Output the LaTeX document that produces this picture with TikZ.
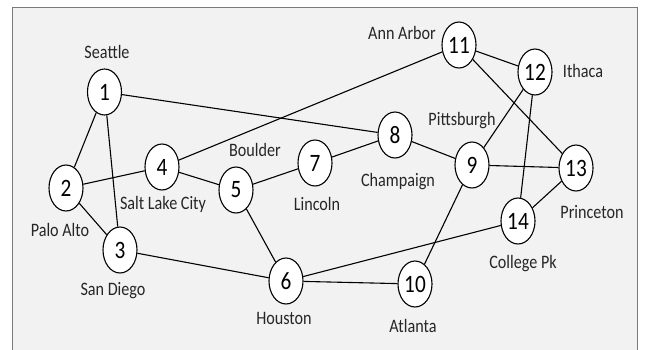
\documentclass[tikz,border=0pt]{standalone}
\usepackage{fontspec}
\setmainfont{Carlito}[FakeStretch=0.85]
\usetikzlibrary{shapes.geometric}
\definecolor{panelgray}{HTML}{F2F2F2}
\definecolor{framegray}{HTML}{7A7A7A}
\tikzset{
  city/.style={ellipse, draw=black, fill=white, line width=1.1pt,
    minimum width=34pt, minimum height=46pt, inner sep=0pt,
    font=\fontsize{25}{25}\selectfont},
  cityname/.style={inner sep=0pt, font=\fontsize{19}{19}\selectfont, text=black!85},
  road/.style={draw=black, line width=1.1pt}
}
\begin{document}
\begin{tikzpicture}[x=1pt,y=-1pt]
\useasboundingbox (0,0) rectangle (645,349);
\fill[white] (0,0) rectangle (645,349);
% panel with open bottom edge
\fill[panelgray] (12.5,7.5) rectangle (637.5,360);
\draw[framegray, line width=1.6pt] (12.5,360) -- (12.5,7.5) -- (637.5,7.5) -- (637.5,360);

% cities
\node[city] (n1)  at (104.5, 92) {1};
\node[city] (n2)  at (66, 188) {2};
\node[city] (n3)  at (120, 250) {3};
\node[city] (n4)  at (162, 167) {4};
\node[city] (n5)  at (236, 190) {5};
\node[city] (n6)  at (286, 281) {6};
\node[city] (n7)  at (315, 163) {7};
\node[city] (n8)  at (395, 135) {8};
\node[city] (n9)  at (472, 165) {9};
\node[city] (n10) at (415, 284) {10};
\node[city] (n11) at (459, 45) {11};
\node[city] (n12) at (535, 72) {12};
\node[city] (n13) at (576, 168) {13};
\node[city] (n14) at (518, 221) {14};

% names
\node[cityname] (l1)  at (107, 52)  {Seattle};
\node[cityname] (l2)  at (60, 230)  {Palo Alto};
\node[cityname] (l3)  at (113, 291) {San Diego};
\node[cityname] (l4)  at (163, 204) {Salt Lake City};
\node[cityname] (l5)  at (255, 150) {Boulder};
\node[cityname] (l6)  at (284, 318) {Houston};
\node[cityname] (l7)  at (317, 204) {Lincoln};
\node[cityname] (l8)  at (398, 182) {Champaign};
\node[cityname] (l9)  at (462, 121) {Pittsburgh};
\node[cityname] (l10) at (413, 326) {Atlanta};
\node[cityname] (l11) at (402, 33)  {Ann Arbor};
\node[cityname] (l12) at (583, 71)  {Ithaca};
\node[cityname] (l13) at (592, 212) {Princeton};
\node[cityname] (l14) at (523, 264) {College Pk};

% roads
\path[road] (n1) -- (n2);
\path[road] (n1) -- (n3);
\path[road] (n1) -- (n8);
\path[road] (n2) -- (n4);
\path[road] (n2) -- (n3);
\path[road] (n3) -- (n6);
\path[road] (n4) -- (n5);
\path[road] (n4) -- (n11);
\path[road] (n5) -- (n7);
\path[road] (n5) -- (n6);
\path[road] (n7) -- (n8);
\path[road] (n8) -- (n9);
\path[road] (n9) -- (n12);
\path[road] (n9) -- (n13);
\path[road] (n9) -- (n10);
\path[road] (n6) -- (n10);
\path[road] (n6) -- (n14);
\path[road] (n11) -- (n12);
\path[road] (n11) -- (n13);
\path[road] (n12) -- (n14);
\path[road] (n13) -- (n14);
\end{tikzpicture}
\end{document}
